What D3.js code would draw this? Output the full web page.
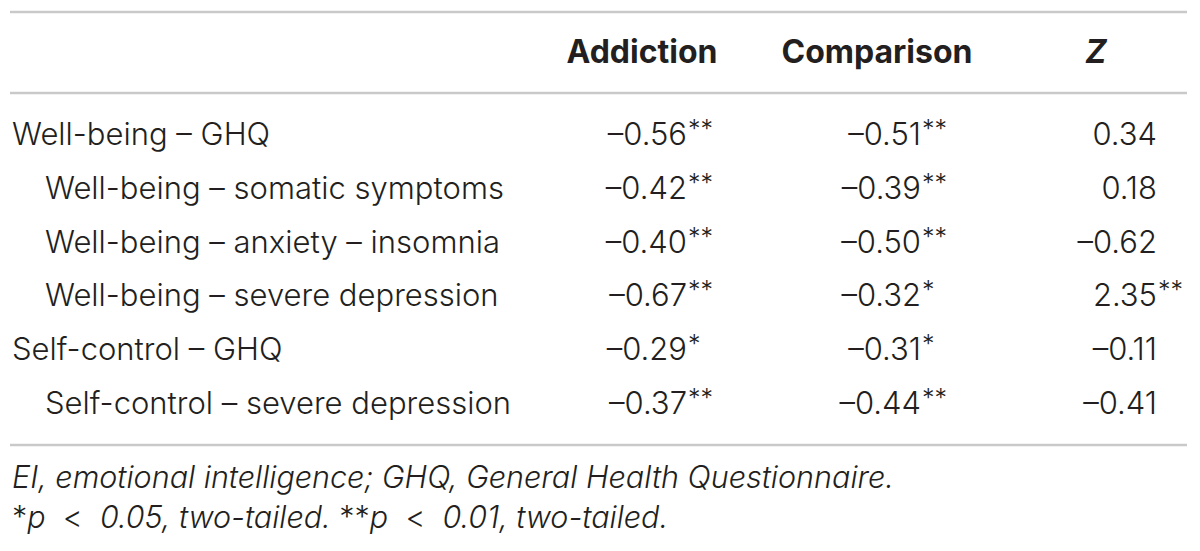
<!DOCTYPE html>
<html>
<head>
<meta charset="utf-8">
<script src="https://cdn.jsdelivr.net/npm/d3@7"></script>
<style>
  body { margin: 0; background: #fff; }
  svg text { font-family: Inter, "Liberation Sans", sans-serif; fill: #231f20; }
</style>
</head>
<body>
<div id="table"></div>
<script>
// Table contents
const columns = ["Addiction", "Comparison", "Z"];
const rowLabels = [
  "Well-being – GHQ",
  "Well-being – somatic symptoms",
  "Well-being – anxiety – insomnia",
  "Well-being – severe depression",
  "Self-control – GHQ",
  "Self-control – severe depression"
];
const rowIndent = [0, 1, 1, 1, 0, 1];
const addiction = [-0.56, -0.42, -0.40, -0.67, -0.29, -0.37];
const addictionSig = ["**", "**", "**", "**", "*", "**"];
const comparison = [-0.51, -0.39, -0.50, -0.32, -0.31, -0.44];
const comparisonSig = ["**", "**", "**", "*", "*", "**"];
const zValues = [0.34, 0.18, -0.62, 2.35, -0.11, -0.41];
const zSig = ["", "", "", "**", "", ""];
const noteLine1 = "EI, emotional intelligence; GHQ, General Health Questionnaire.";

const width = 1200, height = 551;

const svg = d3.select("#table")
    .append("svg")
    .attr("width", width)
    .attr("height", height);

// Row baselines
const y = d3.scalePoint()
    .domain(d3.range(rowLabels.length))
    .range([145, 414]);

// Column anchors: header centre and right edge of the number
const colCenter = d3.scaleOrdinal().domain(columns).range([642, 877, 1096]);
const colRight = d3.scaleOrdinal().domain(columns).range([687, 921, 1157]);

const fmt = v => d3.format(".2f")(v).replace("-", "–").replace("−", "–");

// rules
const rules = [12, 93, 445];
svg.selectAll("line.rule")
  .data(rules)
  .join("line")
    .attr("class", "rule")
    .attr("x1", 10).attr("x2", 1187)
    .attr("y1", d => d).attr("y2", d => d)
    .attr("stroke", "#c9c9c9")
    .attr("stroke-width", 2.5);

// header
svg.selectAll("text.head")
  .data(columns)
  .join("text")
    .attr("class", "head")
    .attr("x", d => colCenter(d))
    .attr("y", 63)
    .attr("text-anchor", "middle")
    .style("font-size", "32px")
    .style("font-weight", 700)
    .style("font-style", d => d === "Z" ? "italic" : "normal")
    .text(d => d);

// row labels
svg.selectAll("text.label")
  .data(rowLabels)
  .join("text")
    .attr("class", "label")
    .attr("x", (d, i) => rowIndent[i] ? 45 : 12)
    .attr("y", (d, i) => y(i))
    .style("font-size", "31px")
    .style("font-weight", 300)
    .text(d => d);

// cells
const series = [
  {col: "Addiction", values: addiction, sig: addictionSig},
  {col: "Comparison", values: comparison, sig: comparisonSig},
  {col: "Z", values: zValues, sig: zSig}
];

series.forEach(s => {
  const g = svg.append("g");
  g.selectAll("text.num")
    .data(s.values)
    .join("text")
      .attr("class", "num")
      .attr("x", colRight(s.col))
      .attr("y", (d, i) => y(i))
      .attr("text-anchor", "end")
      .style("font-size", "31px")
      .style("font-weight", 300)
      .text(d => fmt(d));
  g.selectAll("text.sig")
    .data(s.sig)
    .join("text")
      .attr("class", "sig")
      .attr("x", colRight(s.col) + 1)
      .attr("y", (d, i) => y(i) - 7)
      .style("font-size", "25px")
      .style("font-weight", 300)
      .text(d => d);
});

// notes
svg.append("text")
    .attr("x", 12)
    .attr("y", 488)
    .style("font-size", "30.5px")
    .style("font-weight", 300)
    .style("font-style", "italic")
    .text(noteLine1);

const note2 = svg.append("text")
    .attr("x", 12)
    .attr("y", 528)
    .style("font-size", "30.5px")
    .style("font-weight", 300)
    .style("white-space", "pre");
const parts = [
  ["*", "normal"], ["p", "italic"], ["  <  ", "normal"], ["0.05, two-tailed. ", "italic"],
  ["**", "normal"], ["p", "italic"], ["  <  ", "normal"], ["0.01, two-tailed.", "italic"]
];
note2.selectAll("tspan")
  .data(parts)
  .join("tspan")
    .style("font-style", d => d[1])
    .text(d => d[0]);
</script>
</body>
</html>
